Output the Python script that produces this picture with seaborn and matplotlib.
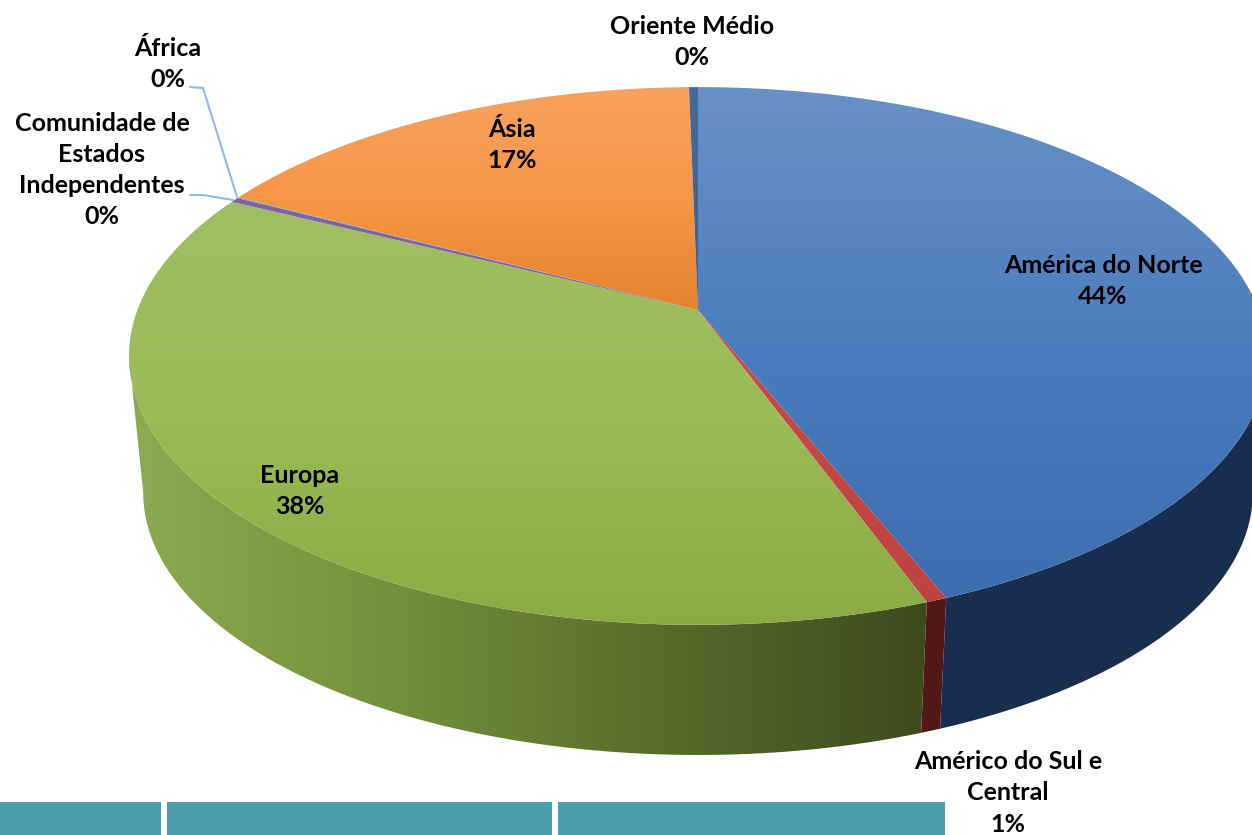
import matplotlib
matplotlib.use("Agg")
from matplotlib import pyplot as plt
from matplotlib.patches import Polygon
import numpy as np
import seaborn as sns

# slices, clockwise from the top of the pie
regions = ["América do Norte", "Américo do Sul e\nCentral", "Europa",
           "Comunidade de\nEstados\nIndependentes", "África", "Ásia", "Oriente Médio"]
shares = [43.95, 0.51, 37.95, 0.3, 0.05, 17.0, 0.3]

# gradients for the top face (top to bottom) and the side face (left to right)
top_colors = [["#6a90c6", "#4a7cbd", "#3a6cae"],
              ["#c9504d", "#bd4240"],
              ["#a2be64", "#9abb56", "#8baa43"],
              ["#8064a2", "#7a5e9c"],
              ["#4bacc6", "#4bacc6"],
              ["#f6a25f", "#f79646", "#e2832f"],
              ["#446a99", "#3f628c"]]
side_colors = [["#182e4e", "#182e4e"],
               ["#521717", "#521717"],
               ["#8dab50", "#728f3a", "#566b2b", "#3b481b"],
               ["#4c3b62", "#4c3b62"],
               ["#2d6a7a", "#2d6a7a"],
               ["#9a5b28", "#9a5b28"],
               ["#1f3550", "#1f3550"]]

# bars of the slide behind the chart
bar_lefts = [0, 167, 558]
bar_widths = [160.5, 385, 387]

# perspective of the pie, in pixels
CX, CY_TOP, CY_BOT = 698, 310, 448
RX, RY, K = 560.6, 261, 0.171
SCALE_BOT = 0.975


def project(theta, cy, scale=1.0):
    u, v = np.sin(theta), np.cos(theta)
    w = 1 + K * v
    return CX + scale * RX * u / w, cy - scale * RY * v / w


def fill_gradient(ax, verts, colors, extent, horizontal, zorder):
    cmap = sns.blend_palette(colors, as_cmap=True)
    ramp = np.linspace(0, 1, 256)
    ramp = ramp[None, :] if horizontal else ramp[:, None]
    im = ax.imshow(ramp, cmap=cmap, extent=extent, aspect="auto",
                   origin="upper", zorder=zorder, interpolation="bilinear")
    im.set_clip_path(Polygon(verts, closed=True, transform=ax.transData))


sns.set_theme(style="white")
plt.rcParams["font.family"] = ["Lato", "DejaVu Sans"]

fig = plt.figure(figsize=(12.52, 8.35), dpi=100)
ax = fig.add_axes([0, 0, 1, 1])

edges = np.deg2rad(np.cumsum([0] + shares) / sum(shares) * 360)

# only the front of the wall shows, between the two silhouette angles
front_start = np.arctan2(np.sqrt(1 - K ** 2), -K)
front_end = 2 * np.pi - front_start

for i in range(len(shares)):
    a, b = max(edges[i], front_start), min(edges[i + 1], front_end)
    if a >= b:
        continue
    th = np.linspace(a, b, 200)
    xt, yt = project(th, CY_TOP)
    xb, yb = project(th, CY_BOT, SCALE_BOT)
    verts = np.r_[np.c_[xt, yt], np.c_[xb, yb][::-1]]
    extent = (125, 950, 760, 300) if i == 2 else (0, 1252, 760, 300)
    fill_gradient(ax, verts, side_colors[i], extent, True, 1)

for i in range(len(shares)):
    th = np.linspace(edges[i], edges[i + 1], 200)
    xt, yt = project(th, CY_TOP)
    verts = np.r_[[[CX, CY_TOP]], np.c_[xt, yt]]
    lo, hi = (195, 630) if i in (1, 2, 3, 4) else (85, 630 if i == 0 else 312)
    fill_gradient(ax, verts, top_colors[i], (0, 1252, hi, lo), False, 2)

ax.bar(bar_lefts, [33] * 3, width=bar_widths, bottom=802, align="edge",
       color="#4a9dab", linewidth=0, zorder=1)

# leader lines of the two tiny slices
ax.plot([190, 203, 237], [87, 88, 197], color="#8fbbe8", lw=1.5, zorder=3)
ax.plot([190, 203, 233], [195, 195, 200], color="#8fbbe8", lw=1.5, zorder=3)

label_xy = [(1103, 281), (1008, 793), (300, 491), (102, 170), (168, 64), (512, 145), (692, 42)]
for name, share, (x, y) in zip(regions, shares, label_xy):
    ax.text(x, y, f"{name}\n{round(share)}%", ha="center", va="center",
            fontsize=18, fontweight="bold", color="black", linespacing=1.43, zorder=4)

ax.set_xlim(0, 1252)
ax.set_ylim(835, 0)
ax.axis("off")
fig.savefig("out.png", dpi=100, facecolor="white")
